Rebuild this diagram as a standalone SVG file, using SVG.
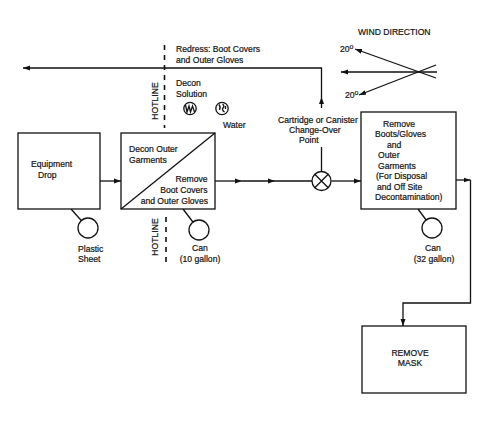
<svg xmlns="http://www.w3.org/2000/svg" width="487" height="426" viewBox="0 0 487 426">
<defs>
<style>
text{font-family:"Liberation Sans",Arial,sans-serif;font-size:8.6px;fill:#111;stroke:#111;stroke-width:0.2}
.ln{fill:none;stroke:#111;stroke-width:1.3}
.box{fill:#fff;stroke:#111;stroke-width:1.3}
.hot{fill:none;stroke:#111;stroke-width:1.6;stroke-dasharray:5,5}
.m{text-anchor:middle}
.e{text-anchor:end}
</style>
<marker id="ah" markerUnits="userSpaceOnUse" markerWidth="7" markerHeight="6" refX="7" refY="3" orient="auto">
<path d="M0,0.5 L7,3 L0,5.5 z" fill="#111"/>
</marker>
</defs>
<rect width="487" height="426" fill="#fff"/>

<g id="connectors">
<path class="ln" d="M100,181 L121,181" marker-end="url(#ah)"/>
<path class="ln" d="M215,181 L242,181" marker-end="url(#ah)"/>
<path class="ln" d="M242,181 L275,181" marker-end="url(#ah)"/>
<path class="ln" d="M275,181 L312,181"/>
<path class="ln" d="M331.5,181 L361,181" marker-end="url(#ah)"/>
<path class="ln" d="M321.5,171.5 L321.5,147"/>
<path class="ln" d="M321.5,108 L321.5,97" marker-end="url(#ah)"/>
<path class="ln" d="M321.5,97 L321.5,68 L23,68" marker-end="url(#ah)"/>
<path class="ln" d="M456,180 L470.5,180" marker-end="url(#ah)"/>
<path class="ln" d="M470.5,180 L470.5,303 L403,303 L403,326" marker-end="url(#ah)"/>
<path class="ln" d="M71,209 L88,228"/>
<path class="ln" d="M183,209 L199,230"/>
<path class="ln" d="M418,209 L432,228"/>
</g>

<g id="hotline">
<path class="hot" d="M164.5,45 L164.5,128"/>
<path class="hot" d="M166,217 L166,264"/>
<text transform="translate(157.5,101) rotate(-90)" class="m">HOTLINE</text>
<text transform="translate(158,237) rotate(-90)" class="m">HOTLINE</text>
</g>

<g id="redress">
<text x="176" y="52">Redress: Boot Covers</text>
<text x="176" y="63">and Outer Gloves</text>
</g>

<g id="decon-solution">
<text x="176" y="86">Decon</text>
<text x="176" y="97">Solution</text>
<circle cx="190" cy="108.5" r="6.2" class="box"/>
<path class="ln" stroke-width="0.9" d="M185.5,105 L187,112 L189,106 L190.5,112 L192.5,106 L194.5,112"/>
</g>

<g id="water">
<circle cx="222" cy="108.5" r="6.2" class="box"/>
<path class="ln" stroke-width="0.9" d="M219,104.5 Q221,107 219.5,110 M222.5,104 Q225,106 223,108 Q221.5,110 224.5,112 M225.5,106 L225.5,109"/>
<text x="223" y="128">Water</text>
</g>

<g id="wind">
<text x="358" y="35">WIND DIRECTION</text>
<path class="ln" d="M436,78 L355,49" marker-end="url(#ah)"/>
<path class="ln" d="M437,72 L341,72" marker-end="url(#ah)"/>
<path class="ln" d="M436,65 L359,95" marker-end="url(#ah)"/>
<text x="340" y="52">20<tspan dy="-3.5" font-size="7">o</tspan></text>
<text x="345" y="98">20<tspan dy="-3.5" font-size="7">o</tspan></text>
</g>

<g id="equipment-drop">
<rect x="18" y="133" width="82" height="76" class="box"/>
<text x="31" y="167">Equipment</text>
<text x="38" y="178">Drop</text>
</g>

<g id="plastic-sheet">
<circle cx="88" cy="228" r="10" class="box"/>
<text x="78" y="252">Plastic</text>
<text x="78" y="262">Sheet</text>
</g>

<g id="decon-outer">
<rect x="121" y="133" width="94" height="76" class="box"/>
<path class="ln" d="M121,209 L215,133"/>
<text x="129" y="152">Decon Outer</text>
<text x="129" y="163">Garments</text>
<text x="207.5" y="182" class="e">Remove</text>
<text x="207.5" y="193" class="e">Boot Covers</text>
<text x="208" y="204" class="e">and Outer Gloves</text>
</g>

<g id="can10">
<circle cx="199" cy="230" r="10" class="box"/>
<text x="200" y="251" class="m">Can</text>
<text x="200" y="262" class="m">(10 gallon)</text>
</g>

<g id="changeover">
<text x="278" y="123">Cartridge or Canister</text>
<text x="289" y="133">Change-Over</text>
<text x="299" y="143">Point</text>
<circle cx="321.5" cy="181" r="9.5" class="box"/>
<path class="ln" d="M314.8,174.3 L328.2,187.7 M328.2,174.3 L314.8,187.7"/>
</g>

<g id="remove-boots">
<rect x="361" y="112" width="95" height="97" class="box"/>
<text x="383" y="127">Remove</text>
<text x="375" y="137">Boots/Gloves</text>
<text x="387" y="148">and</text>
<text x="378" y="158">Outer</text>
<text x="378" y="169">Garments</text>
<text x="376" y="179">(For Disposal</text>
<text x="377" y="190">and Off Site</text>
<text x="375" y="200">Decontamination)</text>
</g>

<g id="can32">
<circle cx="432" cy="228" r="10" class="box"/>
<text x="433" y="251" class="m">Can</text>
<text x="434" y="262" class="m">(32 gallon)</text>
</g>

<g id="remove-mask">
<rect x="362" y="326" width="104" height="67" class="box"/>
<text x="410" y="356" class="m">REMOVE</text>
<text x="410" y="366" class="m">MASK</text>
</g>
</svg>
